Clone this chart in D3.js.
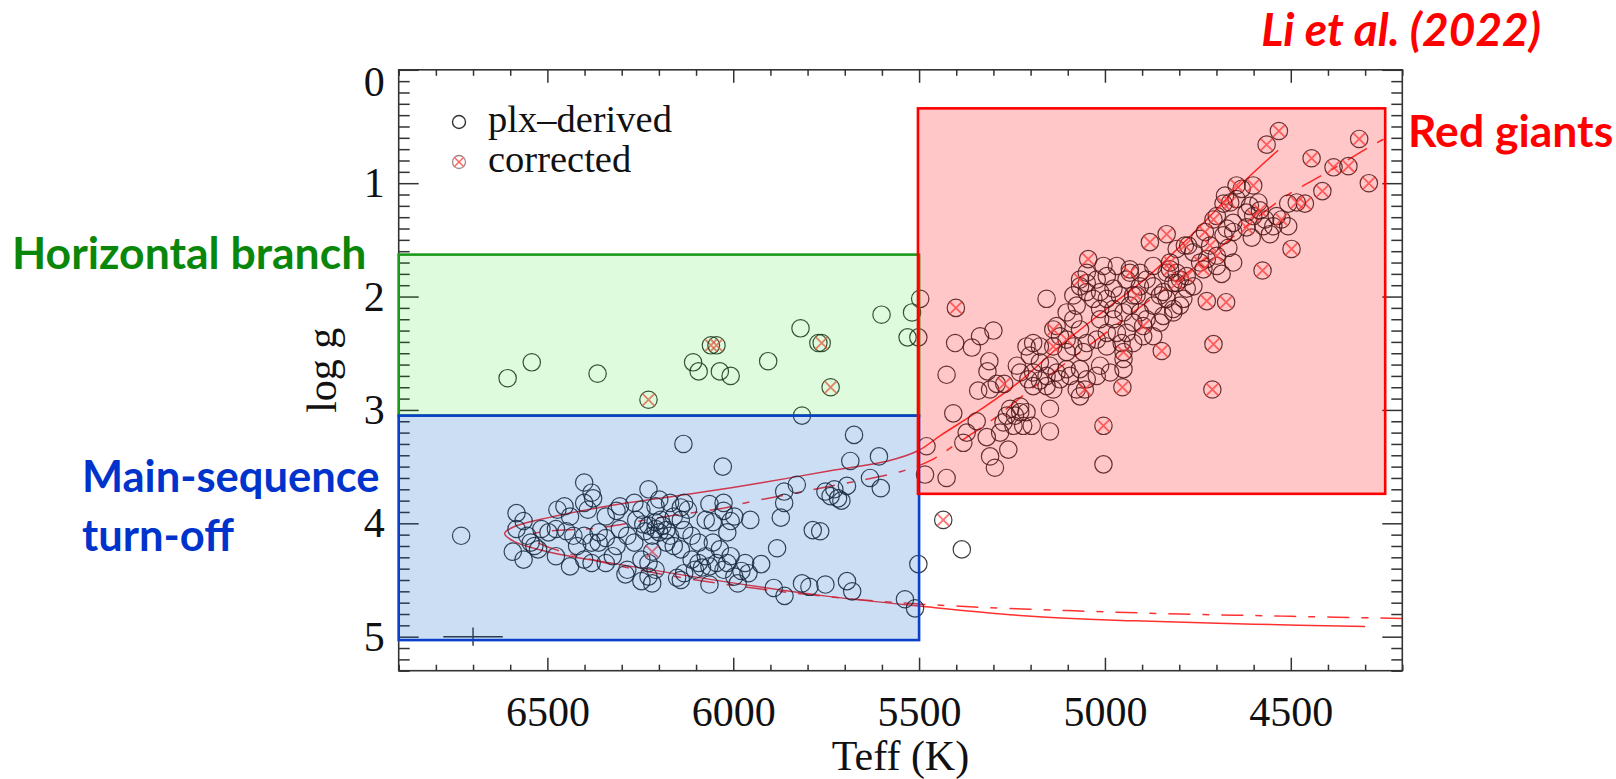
<!DOCTYPE html>
<html>
<head>
<meta charset="utf-8">
<script src="https://cdn.jsdelivr.net/npm/d3@7"></script>
<style>
  html, body { margin: 0; padding: 0; background: #ffffff; }
  svg { display: block; }
</style>
</head>
<body>
<svg id="chart" width="1616" height="779"></svg>
<script>
// ---- Axis extents and ticks ----
const teffDomain = [6900, 4200];
const loggDomain = [0, 5.3];
const teffMajorTicks = [6500, 6000, 5500, 5000, 4500];
const loggMajorTicks = [0, 1, 2, 3, 4, 5];

// ---- Stars with plx-derived log g: [Teff (K), log g] ----
const plxDerived = [
  // horizontal-branch region
  [6607,2.72],[6542,2.58],[6365,2.68],[6108,2.58],[6093,2.66],[6036,2.66],[6007,2.70],
  [5906,2.57],[5819,2.28],[5771,2.41],[5815,3.05],[5601,2.16],[5519,2.14],[5497,2.02],
  [5531,2.36],[5502,2.36],
  // main-sequence turn-off region
  [6732,4.11],[6134,3.30],[6028,3.50],[5675,3.22],[5685,3.45],[5608,3.41],[5632,3.60],
  [5603,3.69],[5829,3.66],[5863,3.72],[5863,3.82],[5872,3.95],[5766,4.07],[5882,4.22],
  [5752,3.72],[5728,3.70],[5718,3.78],[5709,3.80],[5694,3.67],[5738,3.76],[5954,3.97],
  [5502,4.36],[5538,4.67],[5511,4.75],[5891,4.57],[5862,4.64],[5815,4.53],[5795,4.56],
  [5752,4.54],[5694,4.51],[5680,4.60],[5925,4.36],[5959,4.44],[5997,4.47],[5988,4.53],
  [6064,4.54],[6151,4.48],[6141,4.50],[6247,4.51],[6228,4.47],[6218,4.53],[6290,4.45],
  [6439,4.38],[6401,4.32],[6564,4.32],[6593,4.25],[6583,3.91],[6564,3.98],[6583,4.05],
  [6401,3.64],[6377,3.78],[6381,3.73],[6473,3.88],[6454,3.85],[6228,3.70],[6199,3.79],
  [6209,3.85],[6305,3.85],[6314,3.89],[6132,3.82],[6141,3.86],[6122,3.88],[6064,3.83],
  [6026,3.82],[6026,3.89],[5997,3.94],[6074,3.97],[6055,3.99],[6007,3.98],[6016,4.08],
  [6228,4.02],[6209,3.99],[6190,4.02],[6199,4.08],[6218,4.11],[6180,4.06],[6237,4.07],
  [6209,4.05],[6195,3.97],[6170,4.11],[6261,3.97],[6242,4.01],[6381,4.17],[6362,4.17],
  [6343,4.13],[6362,4.08],[6516,4.05],[6497,4.08],[6477,4.05],[6449,4.07],[6430,4.11],
  [6554,4.11],[6535,4.20],[6305,4.05],[6285,4.11],[6266,4.17],[6314,4.20],[6324,4.29],
  [6141,3.97],[6132,4.06],[6112,4.11],[6093,4.17],[6074,4.29],[6093,4.35],[6064,4.38],
  [6045,4.35],[6026,4.41],[6112,4.32],[6084,4.39],[6016,4.35],[5978,4.42],[6132,4.44],
  [6103,4.41],[6228,4.35],[6209,4.41],[6247,4.32],[6180,4.17],[6160,4.20],[6141,4.23],
  [6391,3.88],[6545,4.17],[6525,4.23],[6420,4.20],[6401,4.11],[6439,3.94],[6401,3.82],
  [6343,3.94],[6266,3.82],[6247,3.88],[6170,3.82],[6160,3.94],[6055,4.17],[6036,4.23],
  [6007,4.29],[5968,4.35],[6343,4.35],[6285,4.41],[6381,4.35],[6477,4.29],[5786,4.06],
  [5385,4.23],
  // red-giant region
  [5403,2.41],[5358,2.45],[5336,2.35],[5300,2.30],[5426,2.69],[5311,2.57],[5316,2.66],
  [5341,2.83],[5309,2.82],[5291,2.77],[5408,3.03],[5345,3.10],[5480,3.32],[5484,3.57],
  [5426,3.60],[5372,3.20],[5381,3.29],[5318,3.24],[5309,3.41],[5296,3.51],[5282,3.20],
  [5264,3.05],[5255,2.99],[5242,3.05],[5228,3.02],[5211,3.02],[5246,3.14],[5220,3.14],
  [5273,3.11],[5228,2.97],[5197,3.14],[5260,3.35],[5148,2.99],[5148,3.19],[5004,3.48],
  [5157,2.02],[5175,2.44],[5193,2.41],[5211,2.44],[5202,2.52],[5175,2.58],[5193,2.67],
  [5206,2.73],[5175,2.74],[5157,2.70],[5228,2.67],[5237,2.61],[5193,2.79],[5139,2.82],
  [5130,2.67],[5121,2.73],[5157,2.79],[5148,2.61],[5103,2.64],[5094,2.70],[5076,2.82],
  [5067,2.88],[5049,2.73],[5022,2.70],[5013,2.61],[5067,2.64],[5103,2.49],[5085,2.44],
  [5058,2.49],[5121,2.35],[5130,2.26],[5085,2.20],[5103,2.14],[5067,2.29],[5049,2.41],
  [5022,2.38],[4995,2.44],[4995,2.32],[4986,2.67],[4968,1.73],[4933,1.76],[4942,1.85],
  [4906,1.79],[4870,1.73],[4888,1.85],[4834,1.79],[4807,1.79],[4816,1.88],[4780,1.93],
  [4789,2.02],[4870,1.91],[4843,1.96],[4906,1.91],[4924,1.99],[4933,2.08],[4960,1.99],
  [4977,1.93],[4995,2.02],[5013,1.96],[4977,2.11],[4950,2.14],[4906,2.14],[4888,2.20],
  [4870,2.08],[4834,2.02],[4816,2.14],[4843,2.17],[4852,2.23],[5022,1.85],[4995,1.82],
  [5049,1.79],[5049,1.88],[5004,1.73],[5013,2.11],[5031,2.02],[5049,1.96],[5067,1.91],
  [5085,1.99],[5076,2.08],[5013,2.20],[4977,2.20],[4924,2.23],[4968,2.32],[4942,2.32],
  [4924,2.41],[4955,2.41],[4950,2.55],[4950,2.64],[4897,2.35],[4870,2.35],[4816,2.11],
  [4798,2.08],[4852,1.99],[4798,1.85],[4762,1.91],[4699,1.73],[4655,1.70],[4686,1.80],
  [4726,1.67],[4668,1.57],[4762,1.61],[4776,1.55],[4807,1.58],[4744,1.49],[4681,1.46],
  [4655,1.43],[4672,1.40],[4655,1.35],[4699,1.29],[4605,1.48],[4556,1.45],[4619,1.26],
  [4569,1.32],[4538,1.29],[4507,1.38],[4646,1.14],[4610,1.20],[4574,1.38],[4547,1.38],
  [4507,1.18],[4587,1.17],[4677,1.11],[4632,1.05]
];

// ---- Stars whose log g was corrected: [Teff (K), log g] ----
const corrected = [
  [6228,2.91],[6060,2.43],[6045,2.43],[5762,2.41],[5738,2.80],[6218,4.25],[5435,3.97],
  [4532,0.54],[4565,0.66],[4316,0.61],[4444,0.78],[4385,0.86],[4345,0.85],[4290,1.00],
  [4415,1.07],[4646,1.02],[4601,1.02],[4498,1.58],[4576,1.77],[4462,1.18],[4484,1.17],
  [4525,1.32],[4601,1.29],[4583,1.24],[4619,1.39],[4663,1.17],[4681,1.18],[4708,1.32],
  [4731,1.43],[4717,1.55],[4699,1.64],[4744,1.70],[4735,1.76],[4785,1.55],[4825,1.76],
  [4834,1.45],[4879,1.52],[4780,1.82],[4726,2.04],[4674,2.05],[4933,1.79],[4825,1.70],
  [4807,1.88],[4915,1.99],[4897,2.26],[5067,1.85],[5045,1.67],[4950,2.49],[4953,2.80],
  [4847,2.48],[4708,2.42],[4711,2.82],[5103,2.38],[5139,2.29],[5139,2.44],[5054,2.82],
  [5271,2.77],[5004,3.14],[5401,2.10]
];

// ---- Isochrones: [Teff (K), log g], from the cool main sequence up the giant branch ----
const isochroneSolid = [
  [4300,4.91],[4600,4.89],[4921,4.86],[5199,4.82],[5500,4.73],[5755,4.64],[6032,4.51],
  [6310,4.36],[6500,4.25],[6590,4.16],[6615,4.09],[6590,4.03],[6497,3.95],[6305,3.83],
  [6113,3.74],[5920,3.64],[5728,3.53],[5584,3.45],[5503,3.36],[5440,3.22],[5345,3.02],
  [5230,2.75],[5130,2.46],[5000,2.12],[4883,1.82],[4750,1.40],[4640,1.03],[4534,0.71]
];
const isochroneDashDot = [
  [4200,4.84],[4500,4.82],[4800,4.80],[5100,4.77],[5400,4.73],[5600,4.69],[5850,4.61],
  [6100,4.50],[6300,4.38],[6450,4.26],[6530,4.16],[6540,4.10],[6500,4.07],[6362,4.04],
  [6200,3.95],[6017,3.86],[5968,3.82],[5750,3.68],[5546,3.54],[5466,3.44],[5400,3.30],
  [5300,3.08],[5200,2.82],[5050,2.45],[4900,2.08],[4750,1.72],[4620,1.38],[4516,1.12],
  [4400,0.90],[4278,0.66],[4225,0.57]
];

// ---- Typical uncertainty: Teff, log g, +/- errors ----
const typicalError = [6700, 5.0, 80, 0.08];

// ---- Evolutionary-stage regions ----
const regionNames    = ["Horizontal branch", "Main-sequence turn-off", "Red giants"];
const regionTeffHot  = [6900, 6900, 5503];
const regionTeffCool = [5500, 5500, 4246];
const regionLoggTop  = [1.63, 3.05, 0.34];
const regionLoggBot  = [3.05, 5.03, 3.74];

// ---- Legend entries ----
const legendLabels = ["plx\u2013derived", "corrected"];

// ===================================================================
const svg = d3.select("#chart");
const plot = { left: 398.7, right: 1402.3, top: 69.8, bottom: 670.7 };
const x = d3.scaleLinear().domain(teffDomain).range([plot.left, plot.right]);
const y = d3.scaleLinear().domain(loggDomain).range([plot.top, plot.bottom]);

const serif = "'Liberation Serif', 'Times New Roman', serif";
const sans = "Lato, 'Open Sans', sans-serif";
const axisColor = "#333333";

// Isochrones
const line = d3.line()
  .x(d => x(d[0])).y(d => y(d[1]))
  .curve(d3.curveCatmullRom.alpha(0.5));

svg.append("path").datum(isochroneSolid)
  .attr("d", line).attr("fill", "none")
  .attr("stroke", "#ff1a1a").attr("stroke-width", 1.5).attr("stroke-opacity", 0.9);
svg.append("path").datum(isochroneDashDot)
  .attr("d", line).attr("fill", "none")
  .attr("stroke", "#ff1a1a").attr("stroke-width", 1.5).attr("stroke-opacity", 0.9)
  .attr("stroke-dasharray", "22,12,7,12");

// Data points
const R = 8.7;
svg.append("g").selectAll("circle").data(plxDerived).join("circle")
  .attr("cx", d => x(d[0])).attr("cy", d => y(d[1])).attr("r", R)
  .attr("fill", "none").attr("stroke", "#1c1c1c").attr("stroke-width", 1.2)
  .attr("stroke-opacity", 0.85);

const corr = svg.append("g").selectAll("g").data(corrected).join("g")
  .attr("transform", d => `translate(${x(d[0])},${y(d[1])})`);
corr.append("circle").attr("r", R)
  .attr("fill", "none").attr("stroke", "#1c1c1c").attr("stroke-width", 1.2)
  .attr("stroke-opacity", 0.85);
const xa = R * 0.7;
corr.append("path")
  .attr("d", `M${-xa},${-xa}L${xa},${xa}M${-xa},${xa}L${xa},${-xa}`)
  .attr("stroke", "#ff4848").attr("stroke-width", 1.8).attr("stroke-opacity", 0.75)
  .attr("fill", "none");

// Typical error bar
const [eT, eG, dT, dG] = typicalError;
const errG = svg.append("g").attr("stroke", axisColor).attr("stroke-width", 1.4);
errG.append("line").attr("x1", x(eT + dT)).attr("x2", x(eT - dT))
  .attr("y1", y(eG)).attr("y2", y(eG));
errG.append("line").attr("x1", x(eT)).attr("x2", x(eT))
  .attr("y1", y(eG - dG)).attr("y2", y(eG + dG));

// Axes: minor and major ticks drawn inward on all four sides
const teffMinor = d3.range(4200, 6901, 100).filter(v => v % 500 !== 0);
const loggMinor = d3.range(0, 54).map(i => +(i / 10).toFixed(1)).filter(v => v % 1 !== 0);

function styleAxis(g) {
  g.select(".domain").remove();
  g.selectAll(".tick line").attr("stroke", axisColor).attr("stroke-width", 1.5);
  g.selectAll(".tick text").attr("fill", "#111").attr("font-family", serif).attr("font-size", 42);
}

const axes = svg.append("g");
axes.append("g").attr("transform", `translate(0,${plot.bottom})`)
  .call(d3.axisBottom(x).tickValues(teffMinor).tickSize(-6).tickFormat(""))
  .call(styleAxis);
axes.append("g").attr("transform", `translate(0,${plot.bottom})`)
  .call(d3.axisBottom(x).tickValues(teffMajorTicks).tickSize(-13).tickPadding(25).tickFormat(d3.format("d")))
  .call(styleAxis);
axes.append("g").attr("transform", `translate(0,${plot.top})`)
  .call(d3.axisTop(x).tickValues(teffMinor).tickSize(-6).tickFormat(""))
  .call(styleAxis);
axes.append("g").attr("transform", `translate(0,${plot.top})`)
  .call(d3.axisTop(x).tickValues(teffMajorTicks).tickSize(-13).tickFormat(""))
  .call(styleAxis);
axes.append("g").attr("transform", `translate(${plot.left},0)`)
  .call(d3.axisLeft(y).tickValues(loggMinor).tickSize(-11).tickFormat(""))
  .call(styleAxis);
const leftMajor = axes.append("g").attr("transform", `translate(${plot.left},0)`)
  .call(d3.axisLeft(y).tickValues(loggMajorTicks).tickSize(-20).tickPadding(14).tickFormat(d3.format("d")))
  .call(styleAxis);
leftMajor.selectAll(".tick text").filter(d => d === 0).attr("dy", "0.6em");
axes.append("g").attr("transform", `translate(${plot.right},0)`)
  .call(d3.axisRight(y).tickValues(loggMinor).tickSize(-11).tickFormat(""))
  .call(styleAxis);
axes.append("g").attr("transform", `translate(${plot.right},0)`)
  .call(d3.axisRight(y).tickValues(loggMajorTicks).tickSize(-20).tickFormat(""))
  .call(styleAxis);

svg.append("rect")
  .attr("x", plot.left).attr("y", plot.top)
  .attr("width", plot.right - plot.left).attr("height", plot.bottom - plot.top)
  .attr("fill", "none").attr("stroke", axisColor).attr("stroke-width", 1.6);

// Axis titles
svg.append("text")
  .attr("x", (plot.left + plot.right) / 2).attr("y", 770)
  .attr("text-anchor", "middle").attr("font-family", serif).attr("font-size", 42)
  .attr("fill", "#111").text("Teff (K)");
svg.append("text")
  .attr("transform", `translate(336,${(plot.top + plot.bottom) / 2}) rotate(-90)`)
  .attr("text-anchor", "middle").attr("font-family", serif).attr("font-size", 42)
  .attr("fill", "#111").text("log g");

// Region overlays (translucent, so points beneath take on the tint)
const regionFill = ["rgb(0,225,0)", "rgb(0,90,200)", "rgb(255,0,0)"];
const regionFillOpacity = [0.13, 0.2, 0.22];
const regionStroke = ["#1a9a1a", "#0a3fcc", "#ff0000"];
const regions = d3.range(regionNames.length);
svg.append("g").selectAll("rect").data(regions).join("rect")
  .attr("x", i => x(regionTeffHot[i]))
  .attr("y", i => y(regionLoggTop[i]))
  .attr("width", i => x(regionTeffCool[i]) - x(regionTeffHot[i]))
  .attr("height", i => y(regionLoggBot[i]) - y(regionLoggTop[i]))
  .attr("fill", i => regionFill[i]).attr("fill-opacity", i => regionFillOpacity[i])
  .attr("stroke", i => regionStroke[i]).attr("stroke-width", 2.6);

// Legend
const legend = svg.append("g").attr("transform", "translate(459,122)");
legend.append("circle").attr("cx", 0).attr("cy", 0).attr("r", 6.5)
  .attr("fill", "none").attr("stroke", "#333").attr("stroke-width", 1.4);
legend.append("circle").attr("cx", 0).attr("cy", 40).attr("r", 6.5)
  .attr("fill", "none").attr("stroke", "#a08888").attr("stroke-width", 1.3);
legend.append("path")
  .attr("d", "M-4.5,35.5L4.5,44.5M-4.5,44.5L4.5,35.5")
  .attr("stroke", "#ff5a5a").attr("stroke-width", 1.4);
legend.selectAll("text").data(legendLabels).join("text")
  .attr("x", 29).attr("y", (d, i) => 10 + i * 40)
  .attr("font-family", serif).attr("font-size", 38.5).attr("fill", "#111")
  .text(d => d);

// Region labels and citation
const notes = svg.append("g").attr("font-family", sans).attr("font-weight", 700);
notes.append("text").attr("x", 12).attr("y", 269)
  .attr("font-size", 44.5).attr("fill", "#0a870a").text(regionNames[0]);
notes.append("text").attr("x", 82).attr("y", 492)
  .attr("font-size", 43.5).attr("fill", "#0033cc").text("Main-sequence");
notes.append("text").attr("x", 82).attr("y", 551)
  .attr("font-size", 43.5).attr("fill", "#0033cc").text("turn-off");
notes.append("text").attr("x", 1408).attr("y", 147)
  .attr("font-size", 44.5).attr("fill", "#ff0000").text(regionNames[2]);
notes.append("text").attr("x", 1541).attr("y", 46)
  .attr("text-anchor", "end")
  .attr("font-size", 46).attr("font-style", "italic").attr("fill", "#ff0000")
  .text("Li et al. (2022)");
</script>
</body>
</html>
